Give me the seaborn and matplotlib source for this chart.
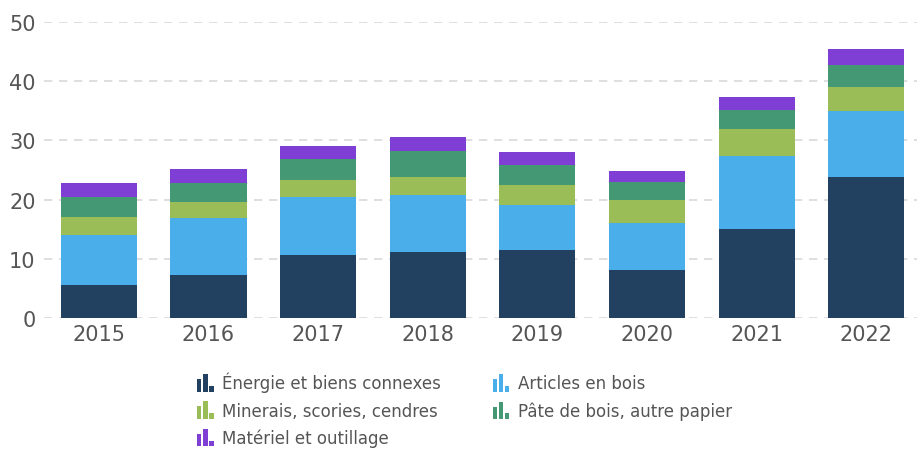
import matplotlib
matplotlib.use("Agg")
import matplotlib.pyplot as plt
from matplotlib.patches import Rectangle, Patch
from matplotlib.legend_handler import HandlerBase
import pandas as pd
import seaborn as sns
import numpy as np

years = ["2015", "2016", "2017", "2018", "2019", "2020", "2021", "2022"]
energie = [5.6, 7.25, 10.6, 11.1, 11.5, 8.1, 15.0, 23.9]
articles_bois = [8.4, 9.65, 9.8, 9.6, 7.6, 7.9, 12.3, 11.0]
minerais = [3.0, 2.7, 2.9, 3.2, 3.3, 3.9, 4.6, 4.2]
pate_bois = [3.4, 3.2, 3.5, 4.3, 3.4, 3.0, 3.3, 3.6]
materiel = [2.4, 2.3, 2.2, 2.3, 2.2, 1.9, 2.2, 2.8]

series = [
    ("Énergie et biens connexes", energie, "#22405f"),
    ("Articles en bois", articles_bois, "#4aaeea"),
    ("Minerais, scories, cendres", minerais, "#9abd58"),
    ("Pâte de bois, autre papier", pate_bois, "#449873"),
    ("Matériel et outillage", materiel, "#7f3fd5"),
]

sns.set_style("white")
plt.rcParams["font.family"] = ["DejaVu Sans"]
text_col = "#555555"

fig = plt.figure(figsize=(9.17, 4.52), dpi=100)
ax = fig.add_axes([44 / 917, 133 / 452, 876 / 917, 296 / 452])

# stacked bars: draw cumulative totals from the top series down
df = pd.DataFrame({"year": years})
cum = np.zeros(len(years))
cums = []
for name, vals, col in series:
    cum = cum + np.array(vals)
    cums.append((name, cum.copy(), col))
for name, c, col in reversed(cums):
    df["v"] = c
    sns.barplot(data=df, x="year", y="v", color=col, width=0.695,
                saturation=1, ax=ax, zorder=2, linewidth=0)

ax.set_ylim(0, 50)
ax.set_xlim(-0.5, 7.49)
ax.set_yticks([0, 10, 20, 30, 40, 50])
ax.yaxis.grid(True, linestyle=(0, (5, 4)), color="#d9d9d9", linewidth=1.2, zorder=0)
ax.set_axisbelow(True)
for s in ax.spines.values():
    s.set_visible(False)
ax.set_xlabel("")
ax.set_ylabel("")
ax.tick_params(axis="both", length=0, labelsize=15, colors=text_col)
ax.tick_params(axis="y", pad=6)
ax.tick_params(axis="x", pad=4)


class BarIcon(HandlerBase):
    def create_artists(self, legend, orig_handle, xdescent, ydescent,
                       width, height, fontsize, trans):
        col = orig_handle.get_facecolor()
        w = width / 3.8
        arts = []
        for i, h in enumerate([0.75, 1.1, 0.3]):
            r = Rectangle((-xdescent + i * w * 1.4, -ydescent - 1), w, height * h + 1,
                          facecolor=col, edgecolor="none", transform=trans)
            arts.append(r)
        return arts


handles = [Patch(facecolor=col, label=name) for name, _, col in series]
# matplotlib fills legend columns first; reorder so rows read left to right
handles = [handles[i] for i in (0, 2, 4, 1, 3)]
leg = fig.legend(handles=handles, loc="upper left", bbox_to_anchor=(197 / 917, 1 - 373 / 452),
                 ncol=2, frameon=False, fontsize=12, handler_map={Patch: BarIcon()},
                 handlelength=1.0, handleheight=1.0, handletextpad=0.5,
                 columnspacing=3.1, labelspacing=0.55, labelcolor=text_col,
                 borderaxespad=0, borderpad=0)

fig.savefig("out.png", dpi=100)
